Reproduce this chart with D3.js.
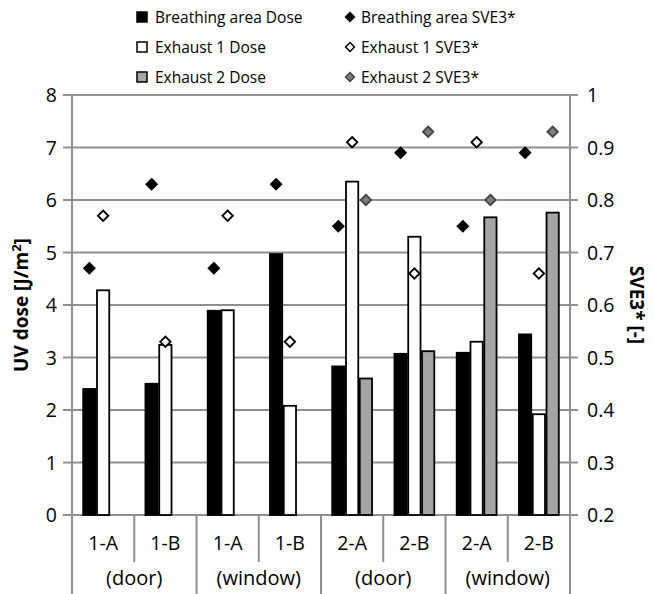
<!DOCTYPE html>
<html>
<head>
<meta charset="utf-8">
<script src="https://cdn.jsdelivr.net/npm/d3@7"></script>
<style>
  html, body { margin: 0; padding: 0; background: #fff; }
  svg { display: block; font-family: "Open Sans", sans-serif; }
</style>
</head>
<body>
<div id="chart"></div>
<script>
const categories = ['1-A', '1-B', '1-A', '1-B', '2-A', '2-B', '2-A', '2-B'];
const groups = ['(door)', '(window)', '(door)', '(window)'];
const doseTicks = [0, 1, 2, 3, 4, 5, 6, 7, 8];
const sveTicks = [0.2, 0.3, 0.4, 0.5, 0.6, 0.7, 0.8, 0.9, 1];

const breathingDose = [2.4, 2.5, 3.89, 4.97, 2.83, 3.07, 3.09, 3.44];
const exhaust1Dose = [4.28, 3.24, 3.9, 2.08, 6.35, 5.3, 3.3, 1.92];
const exhaust2Dose = [null, null, null, null, 2.6, 3.12, 5.67, 5.76];

const breathingSVE = [0.67, 0.83, 0.67, 0.83, 0.75, 0.89, 0.75, 0.89];
const exhaust1SVE = [0.77, 0.53, 0.77, 0.53, 0.91, 0.66, 0.91, 0.66];
const exhaust2SVE = [null, null, null, null, 0.8, 0.93, 0.8, 0.93];

const series = [
  { name: 'Breathing area', dose: breathingDose, sve: breathingSVE, fill: '#000', stroke: '#000' },
  { name: 'Exhaust 1', dose: exhaust1Dose, sve: exhaust1SVE, fill: '#fff', stroke: '#000' },
  { name: 'Exhaust 2', dose: exhaust2Dose, sve: exhaust2SVE, fill: '#a5a5a5', stroke: '#000' },
];

const W = 654;
const H = 594;
const m = { t: 95, r: 84, b: 79, l: 72 };
const grey = '#8f8f8f';

const svg = d3.select('#chart').append('svg').attr('width', W).attr('height', H);

const x = d3.scaleBand().domain(d3.range(categories.length)).range([m.l, W - m.r]);
const sub = d3
  .scaleBand()
  .domain([0, 1, 2])
  .range([x.bandwidth() * 0.168, x.bandwidth() * 0.832]);
const y = d3.scaleLinear().domain([0, 8]).range([H - m.b, m.t]);
const y2 = d3.scaleLinear().domain([0.2, 1]).range([H - m.b, m.t]);

// gridlines
svg
  .append('g')
  .selectAll('line')
  .data(doseTicks)
  .join('line')
  .attr('x1', m.l - 9)
  .attr('x2', W - m.r + 8)
  .attr('y1', (d) => y(d))
  .attr('y2', (d) => y(d))
  .attr('stroke', grey)
  .attr('stroke-width', 2);

// vertical axis lines
svg
  .append('g')
  .selectAll('line')
  .data([m.l, W - m.r])
  .join('line')
  .attr('x1', (d) => d)
  .attr('x2', (d) => d)
  .attr('y1', m.t)
  .attr('y2', H - m.b)
  .attr('stroke', grey)
  .attr('stroke-width', 2);

// tick labels
svg
  .append('g')
  .selectAll('text')
  .data(doseTicks)
  .join('text')
  .attr('x', m.l - 15)
  .attr('y', (d) => y(d))
  .attr('dy', '0.36em')
  .attr('text-anchor', 'end')
  .attr('font-size', 19.5)
  .text((d) => d);

svg
  .append('g')
  .selectAll('text')
  .data(sveTicks)
  .join('text')
  .attr('x', W - m.r + 17)
  .attr('y', (d) => y2(d))
  .attr('dy', '0.36em')
  .attr('font-size', 19.5)
  .text((d) => d3.format('~g')(d));

// category axis separators
const bounds = d3.range(categories.length + 1).map((i) => (i < categories.length ? x(i) : x(i - 1) + x.bandwidth()));
svg
  .append('g')
  .selectAll('line')
  .data(bounds)
  .join('line')
  .attr('x1', (d) => d)
  .attr('x2', (d) => d)
  .attr('y1', H - m.b)
  .attr('y2', (d, i) => (i % 2 === 0 ? H : H - m.b + 47))
  .attr('stroke', grey)
  .attr('stroke-width', 2);

svg
  .append('g')
  .selectAll('text')
  .data(categories)
  .join('text')
  .attr('x', (d, i) => x(i) + x.bandwidth() / 2)
  .attr('y', H - m.b + 35)
  .attr('text-anchor', 'middle')
  .attr('font-size', 19.5)
  .text((d) => d);

svg
  .append('g')
  .selectAll('text')
  .data(groups)
  .join('text')
  .attr('x', (d, i) => x(i * 2) + x.bandwidth())
  .attr('y', H - m.b + 70)
  .attr('text-anchor', 'middle')
  .attr('font-size', 20)
  .text((d) => d);

// bars
series.forEach((s, si) => {
  svg
    .append('g')
    .selectAll('rect')
    .data(s.dose.map((v, i) => ({ v, i })).filter((d) => d.v != null))
    .join('rect')
    .attr('x', (d) => x(d.i) + sub(si) + 0.75)
    .attr('y', (d) => y(d.v))
    .attr('width', sub.bandwidth() - 1.5)
    .attr('height', (d) => y(0) - y(d.v))
    .attr('fill', s.fill)
    .attr('stroke', s.stroke)
    .attr('stroke-width', 1.8);
});

// SVE3* markers
const diamond = d3.symbol().type(d3.symbolDiamond2).size(70);
series.forEach((s, si) => {
  svg
    .append('g')
    .selectAll('path')
    .data(s.sve.map((v, i) => ({ v, i })).filter((d) => d.v != null))
    .join('path')
    .attr('d', diamond)
    .attr('transform', (d) => `translate(${x(d.i) + sub(si) + sub.bandwidth() / 2},${y2(d.v)})`)
    .attr('fill', si === 2 ? '#7f7f7f' : s.fill)
    .attr('stroke', si === 2 ? '#444' : '#000')
    .attr('stroke-width', 1.8);
});

// axis titles
svg
  .append('text')
  .attr('transform', `translate(28,${(m.t + H - m.b) / 2}) rotate(-90)`)
  .attr('text-anchor', 'middle')
  .attr('font-size', 19)
  .attr('font-weight', 'bold')
  .html('UV dose [J/m<tspan dy="-7" font-size="13">2</tspan><tspan dy="7">]</tspan>');

svg
  .append('text')
  .attr('transform', `translate(630,${(m.t + H - m.b) / 2}) rotate(90)`)
  .attr('text-anchor', 'middle')
  .attr('font-size', 19)
  .attr('font-weight', 'bold')
  .text('SVE3* [-]');

// legend
const legend = svg.append('g').attr('font-size', 15.5);
series.forEach((s, si) => {
  const ly = 17 + si * 30;
  legend
    .append('rect')
    .attr('x', 137)
    .attr('y', ly - 5)
    .attr('width', 10)
    .attr('height', 10)
    .attr('fill', s.fill)
    .attr('stroke', '#000')
    .attr('stroke-width', 1.5);
  legend
    .append('text')
    .attr('x', 155)
    .attr('y', ly)
    .attr('dy', '0.36em')
    .text(`${s.name} Dose`);
  legend
    .append('path')
    .attr('d', d3.symbol().type(d3.symbolDiamond2).size(50))
    .attr('transform', `translate(350,${ly})`)
    .attr('fill', si === 2 ? '#7f7f7f' : s.fill)
    .attr('stroke', si === 2 ? '#444' : '#000')
    .attr('stroke-width', 1.5);
  legend
    .append('text')
    .attr('x', 361)
    .attr('y', ly)
    .attr('dy', '0.36em')
    .text(`${s.name} SVE3*`);
});
</script>
</body>
</html>
